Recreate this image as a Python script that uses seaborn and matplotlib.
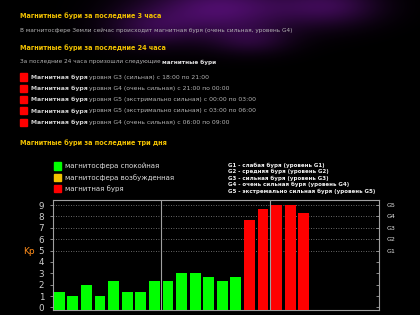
import numpy as np
import pandas as pd
import matplotlib
matplotlib.use("Agg")
import matplotlib.pyplot as plt
from matplotlib.patches import Rectangle
import seaborn as sns

# Kp-индекс по трёхчасовым интервалам (последние три дня)
slots = list(range(19))
kp_values = [1.33, 1.0, 2.0, 1.0, 2.33, 1.33, 1.33, 2.33,
             2.33, 3.0, 3.0, 2.67, 2.33, 2.67, 7.67, 8.67,
             9.0, 9.0, 8.33]
n_slots = 24
day_bounds = [7.5, 15.5]
grid_levels = [5, 6, 7, 8, 9]
g_ticks = [5, 6, 7, 8, 9]
g_labels = ["G1", "G2", "G3", "G4", "G5"]

legend_labels = ["магнитосфера спокойная", "магнитосфера возбужденная", "магнитная буря"]
legend_colors = ["#00ff00", "#f2c200", "#ff0000"]

g_descr = ["G1 - слабая буря (уровень G1)",
           "G2 - средняя буря (уровень G2)",
           "G3 - сильная буря (уровень G3)",
           "G4 - очень сильная буря (уровень G4)",
           "G5 - экстремально сильная буря (уровень G5)"]

storm_levels = ["G3 (сильная) с 18:00 по 21:00",
                "G4 (очень сильная) с 21:00 по 00:00",
                "G5 (экстримально сильная) с 00:00 по 03:00",
                "G5 (экстримально сильная) с 03:00 по 06:00",
                "G4 (очень сильная) с 06:00 по 09:00"]

W, H = 420, 315


def px(x, y):
    """пиксели -> координаты фигуры"""
    return x / W, 1 - y / H


sns.set_style("dark")
plt.rcParams["font.family"] = ["DejaVu Sans"]

fig = plt.figure(figsize=(W / 100, H / 100), dpi=100)
fig.patch.set_facecolor("black")

# фон с фиолетовой туманностью сверху
bg = fig.add_axes([0, 0, 1, 1])
yy, xx = np.mgrid[0:H, 0:W]
glow = (0.75 * np.exp(-(((xx - 220) / 75) ** 2 + ((yy - 8) / 26) ** 2))
        + 0.5 * np.exp(-(((xx - 330) / 50) ** 2 + ((yy - 5) / 20) ** 2))
        + 0.35 * np.exp(-(((xx - 150) / 45) ** 2 + ((yy - 28) / 18) ** 2))
        + 0.3 * np.exp(-(((xx - 250) / 40) ** 2 + ((yy - 40) / 14) ** 2)))
img = np.zeros((H, W, 3))
img[..., 0] = 0.40 * glow
img[..., 1] = 0.07 * glow
img[..., 2] = 0.55 * glow
bg.imshow(np.clip(img, 0, 1), aspect="auto", extent=[0, W, H, 0])
bg.set_axis_off()

yellow = "#f0c000"
gray = "#b4b4b4"

fig.text(*px(20, 16), "Магнитные бури за последние 3 часа", color=yellow,
         fontsize=4.7, fontweight="bold", va="center")
fig.text(*px(20, 30), "В магнитосфере Земли сейчас происходит магнитная буря (очень сильная, уровень G4)",
         color=gray, fontsize=4.15, va="center")
fig.text(*px(20, 48), "Магнитные бури за последние 24 часа", color=yellow,
         fontsize=4.7, fontweight="bold", va="center")
t = fig.text(*px(20, 62), "За последние 24 часа произошли следующие ", color=gray,
             fontsize=4.15, va="center")
fig.canvas.draw()
bb = t.get_window_extent()
fig.text(bb.x1 / W, 1 - 62 / H, "магнитные бури", color="#e0e0e0",
         fontsize=4.15, fontweight="bold", va="center")

for i, lvl in enumerate(storm_levels):
    y = 77 + i * 11.3
    fig.patches.append(Rectangle(px(20, y + 3.5), 7.5 / W, 7 / H, color="#ff0000",
                                 transform=fig.transFigure, figure=fig))
    t = fig.text(*px(31, y), "Магнитная буря", color="#d0d0d0", fontsize=4.45,
                 fontweight="bold", va="center")
    bb = t.get_window_extent()
    fig.text(bb.x1 / W + 1.5 / W, 1 - y / H, "уровня " + lvl, color=gray,
             fontsize=4.45, va="center")

fig.text(*px(20, 143), "Магнитные бури за последние три дня", color=yellow,
         fontsize=4.7, fontweight="bold", va="center")

for i, (lab, col) in enumerate(zip(legend_labels, legend_colors)):
    y = 166 + i * 11.3
    fig.patches.append(Rectangle(px(54, y + 3.8), 7.5 / W, 7.5 / H, color=col,
                                 transform=fig.transFigure, figure=fig))
    fig.text(*px(65, y), lab, color="#dcdcdc", fontsize=5.05, va="center")

for i, s in enumerate(g_descr):
    fig.text(*px(228, 165 + i * 6.6), s, color="#f0f0f0", fontsize=4.0,
             fontweight="bold", va="center")

# график Kp
ax = fig.add_axes([52.5 / W, 5 / H, 326 / W, 110 / H])
ax.set_facecolor("black")
df = pd.DataFrame({"slot": slots, "kp": kp_values})
df["state"] = np.where(df["kp"] >= 5, "буря", np.where(df["kp"] >= 4, "возбужденная", "спокойная"))
palette = {"спокойная": legend_colors[0], "возбужденная": legend_colors[1], "буря": legend_colors[2]}
sns.barplot(data=df, x="slot", y="kp", hue="state", palette=palette, dodge=False,
            width=0.8, saturation=1, legend=False, ax=ax, zorder=3)

ymin, ymax = -0.22, 9.45
for p in ax.patches:
    h = p.get_height()
    p.set_y(ymin)
    p.set_height(h - ymin)
    p.set_edgecolor("none")

for g in grid_levels:
    ax.axhline(g, color="#8a8a8a", lw=0.6, ls=(0, (1, 2)), zorder=1)
for d in day_bounds:
    ax.axvline(d, color="#a0a0a0", lw=0.8, zorder=4)

ax.set_xlim(-0.5, n_slots - 0.5)
ax.set_ylim(ymin, ymax)
ax.set_xticks(np.arange(n_slots + 1) - 0.5)
ax.set_xticklabels([])
ax.set_yticks(range(10))
ax.set_yticklabels([str(v) for v in range(10)])
ax.tick_params(axis="x", direction="out", length=2.5, color="#a0a0a0", width=0.6)
ax.tick_params(axis="y", direction="out", length=2, color="#a0a0a0", width=0.6,
               labelcolor="#d0d0d0", labelsize=6.3, pad=4)
ax.set_xlabel("")
ax.set_ylabel("")
ax.grid(False)
for s in ax.spines.values():
    s.set_visible(True)
    s.set_color("#a0a0a0")
    s.set_linewidth(0.8)

ax2 = ax.twinx()
ax2.set_ylim(ymin, ymax)
ax2.set_yticks(range(10))
ax2.set_yticklabels([g_labels[g_ticks.index(v)] if v in g_ticks else "" for v in range(10)])
ax2.tick_params(axis="y", direction="in", length=2, color="#a0a0a0", width=0.6,
                labelcolor="#e0e0e0", labelsize=4.6, pad=6)
ax2.grid(False)
for s in ax2.spines.values():
    s.set_visible(False)

fig.text(*px(29, 251), "Kp", color="#ff8c1a", fontsize=6.5, ha="center", va="center")

fig.savefig("out.png", dpi=100, facecolor="black")
